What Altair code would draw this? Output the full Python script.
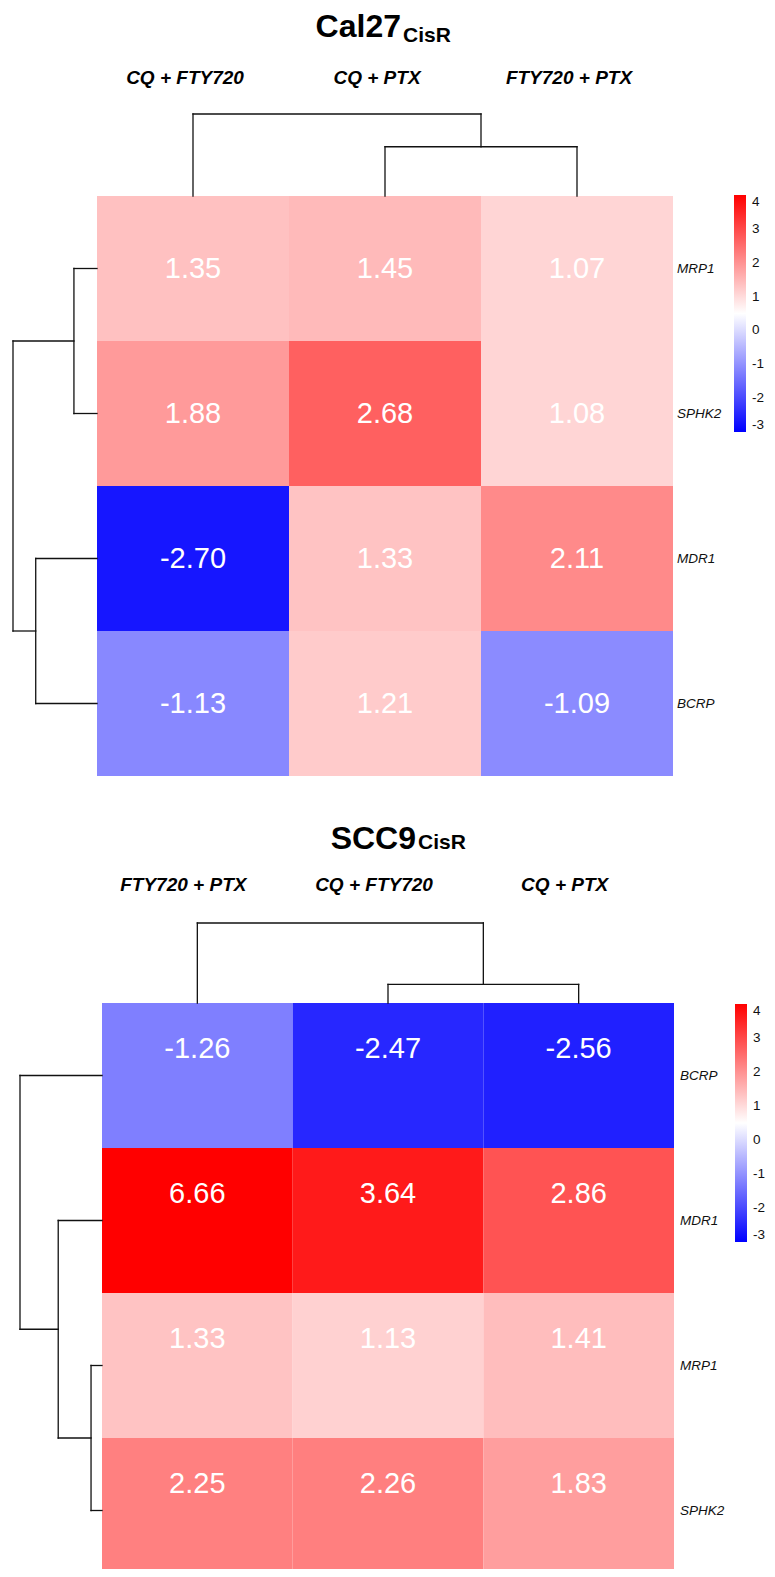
import altair as alt
import pandas as pd

# ---------------- data ----------------
top_title = "Cal27"
top_sub = "CisR"
top_cols = ["CQ + FTY720", "CQ + PTX", "FTY720 + PTX"]
top_rows = ["MRP1", "SPHK2", "MDR1", "BCRP"]
top_values = [
    [1.35, 1.45, 1.07],
    [1.88, 2.68, 1.08],
    [-2.70, 1.33, 2.11],
    [-1.13, 1.21, -1.09],
]
# merges (a, b, height): negative = leaf (1-based, display order), positive = earlier merge (1-based)
top_col_merges = [(-2, -3, 2.93), (-1, 1, 4.88)]
top_row_merges = [(-1, -2, 1.34), (-3, -4, 3.56), (1, 2, 4.88)]

bot_title = "SCC9"
bot_sub = "CisR"
bot_cols = ["FTY720 + PTX", "CQ + FTY720", "CQ + PTX"]
bot_rows = ["BCRP", "MDR1", "MRP1", "SPHK2"]
bot_values = [
    [-1.26, -2.47, -2.56],
    [6.66, 3.64, 2.86],
    [1.33, 1.13, 1.41],
    [2.25, 2.26, 1.83],
]
bot_col_merges = [(-2, -3, 0.94), (-1, 1, 4.04)]
bot_row_merges = [(-3, -4, 1.52), (-2, 1, 6.07), (-1, 2, 11.37)]

legend_ticks = [4, 3, 2, 1, 0, -1, -2, -3]
color_domain = [-3, 0.5, 4]
color_range = ["#0000ff", "#ffffff", "#ff0000"]

FONT = "Liberation Sans"


def dendro_segments(merges):
    pos, hgt, segs = {}, {}, []

    def node(n):
        if n < 0:
            return (-n - 0.5, 0.0)
        return (pos[n], hgt[n])

    for k, (a, b, h) in enumerate(merges, start=1):
        pa, ha = node(a)
        pb, hb = node(b)
        segs.append(dict(p1=pa, p2=pa, h1=ha, h2=h))
        segs.append(dict(p1=pb, p2=pb, h1=hb, h2=h))
        segs.append(dict(p1=pa, p2=pb, h1=h, h2=h))
        pos[k] = (pa + pb) / 2
        hgt[k] = h
    return pd.DataFrame(segs)


def panel(title, sub, cols, rows, values, col_merges, row_merges, g):
    cells = pd.DataFrame([
        dict(c=i, c2=i + 1, r=j, r2=j + 1, cm=i + 0.5, rm=j + 0.5,
             v=values[j][i], t=f"{values[j][i]:.2f}")
        for j in range(len(rows)) for i in range(len(cols))
    ])
    xs = alt.Scale(domain=[0, len(cols)], range=g["x"], nice=False, zero=False)
    ys = alt.Scale(domain=[0, len(rows)], range=g["y"], nice=False, zero=False)
    cs = alt.Scale(domain=color_domain, range=color_range, clamp=True, interpolate="rgb")

    rect = alt.Chart(cells).mark_rect().encode(
        x=alt.X("c:Q", scale=xs, axis=None), x2="c2",
        y=alt.Y("r:Q", scale=ys, axis=None), y2="r2",
        color=alt.Color("v:Q", scale=cs, legend=alt.Legend(
            orient="none", legendX=g["lx"], legendY=g["ly"], direction="vertical",
            gradientLength=g["llen"], gradientThickness=12, title=None,
            values=legend_ticks, labelExpr="'' + datum.value", labelFont=FONT,
            labelFontSize=13.5, labelBaseline="middle", labelOffset=6,
            labelOverlap=False, gradientStrokeWidth=0, padding=0, labelColor="#111")),
    )
    txt = alt.Chart(cells).mark_text(font=FONT, fontSize=29, color="white", dy=g["dy"]).encode(
        x=alt.X("cm:Q", scale=xs, axis=None),
        y=alt.Y("rm:Q", scale=ys, axis=None),
        text="t:N",
    )
    rl = pd.DataFrame(dict(xr=[len(cols)] * len(rows), rm=[j + 0.5 for j in range(len(rows))], name=rows))
    rowlab = alt.Chart(rl).mark_text(font=FONT, fontSize=13.5, fontStyle="italic", align="left",
                                     dx=g["rdx"], color="#111").encode(
        x=alt.X("xr:Q", scale=xs, axis=None),
        y=alt.Y("rm:Q", scale=ys, axis=None),
        text="name:N",
    )
    cl = pd.DataFrame(dict(cm=[i + 0.5 for i in range(len(cols))], name=cols))
    collab = alt.Chart(cl).mark_text(font=FONT, fontSize=19, fontStyle="italic", fontWeight="bold",
                                     dx=g["ldx"], color="#000").encode(
        x=alt.X("cm:Q", scale=xs, axis=None),
        y=alt.value(g["label_y"]),
        text="name:N",
    )
    cseg = dendro_segments(col_merges)
    cmax = max(m[2] for m in col_merges)
    cden = alt.Chart(cseg).mark_rule(color="#111", strokeWidth=1.3, strokeCap="square").encode(
        x=alt.X("p1:Q", scale=xs, axis=None), x2="p2",
        y=alt.Y("h1:Q", scale=alt.Scale(domain=[0, cmax], range=g["cd"], nice=False, zero=False), axis=None),
        y2="h2",
    )
    rseg = dendro_segments(row_merges)
    rmax = max(m[2] for m in row_merges)
    rden = alt.Chart(rseg).mark_rule(color="#111", strokeWidth=1.3, strokeCap="square").encode(
        y=alt.Y("p1:Q", scale=ys, axis=None), y2="p2",
        x=alt.X("h1:Q", scale=alt.Scale(domain=[0, rmax], range=g["rd"], nice=False, zero=False), axis=None),
        x2="h2",
    )
    tdf = pd.DataFrame(dict(main=[title], sub=[sub]))
    t1 = alt.Chart(tdf).mark_text(font=FONT, fontSize=32, fontWeight="bold", align="right",
                                  baseline="alphabetic", color="#000").encode(
        x=alt.value(g["tx"]), y=alt.value(g["ty"]), text="main:N")
    t2 = alt.Chart(tdf).mark_text(font=FONT, fontSize=21, fontWeight="bold", align="left",
                                  baseline="alphabetic", color="#000").encode(
        x=alt.value(g["tx"] + 2), y=alt.value(g["sy"]), text="sub:N")
    return [rect, txt, rowlab, collab, cden, rden, t1, t2]


g_top = dict(x=[89, 665], y=[188, 768], cd=[188, 106], rd=[89, 5], label_y=70, ldx=-8,
             lx=726, ly=187, llen=237, tx=393, ty=29, sy=34, dy=0, rdx=4)
g_bot = dict(x=[94, 666], y=[995, 1575], cd=[995, 915], rd=[94, 12], label_y=877, ldx=-14,
             lx=727, ly=996, llen=238, tx=408, ty=841, sy=841, dy=-27, rdx=6)

layers = panel(top_title, top_sub, top_cols, top_rows, top_values, top_col_merges, top_row_merges, g_top) + \
         panel(bot_title, bot_sub, bot_cols, bot_rows, bot_values, bot_col_merges, bot_row_merges, g_bot)

chart = alt.layer(*layers).resolve_scale(
    x="independent", y="independent", color="independent"
).properties(
    width=759, height=1561, padding=0, autosize=alt.AutoSizeParams(type="none")
).configure_view(stroke=None)

chart.save("out.html", embed_options={"renderer": "svg", "actions": False})
